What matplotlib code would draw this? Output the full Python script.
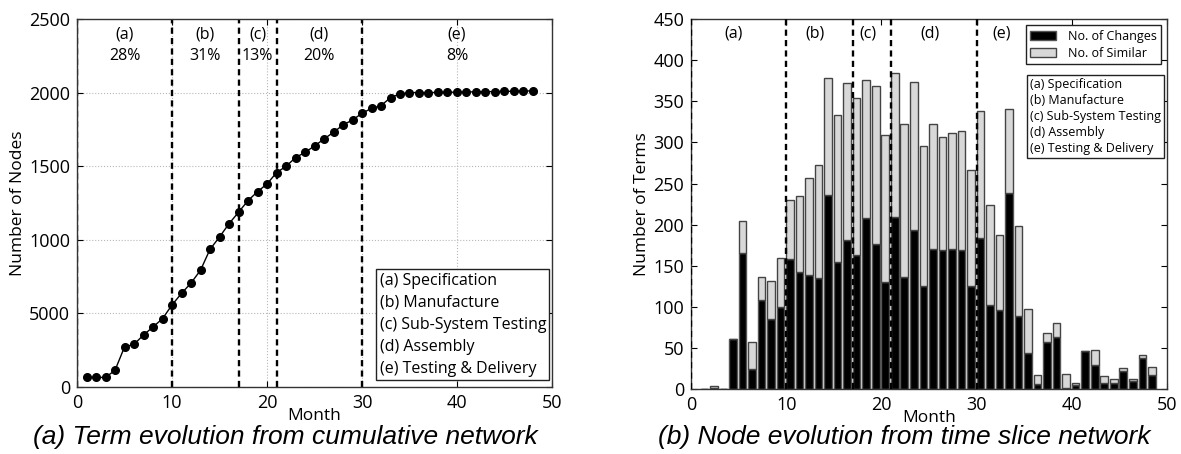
import matplotlib
matplotlib.use("Agg")
import matplotlib.pyplot as plt
import numpy as np

plt.rcParams['font.family'] = ['Open Sans', 'DejaVu Sans']

# cumulative network (left)
months = np.arange(1, 49)
nodes = [65, 65, 65, 113, 272, 290, 353, 408, 464, 557,
         636, 706, 793, 935, 1019, 1109, 1187, 1266, 1327, 1379,
         1456, 1499, 1558, 1594, 1637, 1685, 1730, 1780, 1814, 1859,
         1893, 1911, 1966, 1991, 2000, 2000, 2000, 2001, 2002, 2003,
         2004, 2005, 2006, 2007, 2008, 2009, 2010, 2012]

# time slice network (right)
changes = [0, 1, 0, 61, 166, 25, 108, 85, 100, 158,
           143, 139, 135, 236, 155, 182, 163, 208, 177, 131,
           210, 137, 193, 125, 171, 169, 170, 169, 126, 184,
           102, 96, 238, 89, 44, 7, 57, 64, 2, 5,
           46, 30, 8, 8, 22, 10, 38, 17]
similar = [0, 3, 0, 0, 38, 32, 28, 47, 59, 72,
           92, 118, 137, 142, 178, 190, 191, 168, 192, 178,
           174, 185, 180, 171, 151, 138, 142, 145, 141, 154,
           122, 92, 103, 110, 53, 10, 12, 16, 16, 3,
           0, 18, 8, 5, 4, 3, 4, 10]

phase_bounds = [0, 10, 17, 21, 30]
phase_names = ['(a)', '(b)', '(c)', '(d)', '(e)']
phase_pct = ['28%', '31%', '13%', '20%', '8%']
left_label_x = [5, 13.5, 19, 25.5, 40]
right_label_x = [4.5, 13, 18.6, 25.1, 32.6]
phase_legend = ("(a) Specification\n(b) Manufacture\n(c) Sub-System Testing\n"
                "(d) Assembly\n(e) Testing & Delivery")

fig = plt.figure(figsize=(11.81, 4.54), dpi=100)
ax1 = fig.add_axes([0.0652, 0.1476, 0.4022, 0.8106])
ax2 = fig.add_axes([0.5851, 0.1425, 0.4031, 0.8156])

dash = (0, (2.6, 1.8))

# left plot
ax1.plot(months, nodes, '-o', color='k', lw=1, ms=5.5, zorder=3)
for b in phase_bounds:
    ax1.axvline(b, color='k', lw=1.7, linestyle=dash, zorder=2)
for x, n, p in zip(left_label_x, phase_names, phase_pct):
    ax1.text(x, 2395, n, ha='center', va='center', fontsize=11.5)
    ax1.text(x, 2250, p, ha='center', va='center', fontsize=11.5)
ax1.set_xlim(0, 50)
ax1.set_ylim(0, 2500)
ax1.set_yticks([0, 500, 1000, 1500, 2000, 2500])
ax1.set_yticklabels(['0', '5000', '1000', '1500', '2000', '2500'])
ax1.grid(True, linestyle=':', color='#b8b8b8', lw=0.8)
ax1.set_xlabel('Month', fontsize=12.5, labelpad=-3)
ax1.set_ylabel('Number of Nodes', fontsize=12.5, labelpad=2)
ax1.text(0.637, 0.028, phase_legend, transform=ax1.transAxes, fontsize=11.5,
         ha='left', va='bottom', linespacing=1.5, zorder=5,
         bbox=dict(boxstyle='square,pad=0.2', fc='white', ec='#222222', lw=1))

# right plot
ax2.bar(months, changes, width=0.8, align='edge', color='black',
        edgecolor='#555555', lw=1, label='No. of Changes', zorder=2)
ax2.bar(months, similar, width=0.8, align='edge', bottom=changes,
        color='#d8d8d8', edgecolor='#444444', lw=1, label='No. of Similar', zorder=2)
for b in phase_bounds:
    ax2.axvline(b, color='k', lw=1.7, linestyle=dash, zorder=3)
for x, n in zip(right_label_x, phase_names):
    ax2.text(x, 432, n, ha='center', va='center', fontsize=11.5)
ax2.set_xlim(0, 50)
ax2.set_ylim(0, 450)
ax2.set_yticks(np.arange(0, 451, 50))
ax2.set_xlabel('Month', fontsize=12.5, labelpad=-3)
ax2.set_ylabel('Number of Terms', fontsize=12.5, labelpad=2)
leg = ax2.legend(loc='upper right', fontsize=9, fancybox=False, framealpha=1,
                 edgecolor='#222222', borderpad=0.35, handlelength=2.1,
                 handleheight=0.75, borderaxespad=0.5, labelspacing=0.35,
                 handletextpad=0.9)
leg.get_frame().set_linewidth(1)
ax2.text(0.712, 0.632, phase_legend, transform=ax2.transAxes, fontsize=9,
         ha='left', va='bottom', linespacing=1.3, zorder=5,
         bbox=dict(boxstyle='square,pad=0.25', fc='white', ec='#222222', lw=1))

for ax in (ax1, ax2):
    ax.set_xticks([0, 10, 20, 30, 40, 50])
    ax.tick_params(direction='in', top=True, right=True, labelsize=13, length=4, pad=5)
    for s in ax.spines.values():
        s.set_color('#333333')
        s.set_linewidth(1)

fig.text(0.242, 0.037, '(a) Term evolution from cumulative network', ha='center',
         va='center', fontsize=19, style='italic', family='Liberation Sans')
fig.text(0.766, 0.037, '(b) Node evolution from time slice network', ha='center',
         va='center', fontsize=19, style='italic', family='Liberation Sans')

fig.savefig('out.png', dpi=100)
